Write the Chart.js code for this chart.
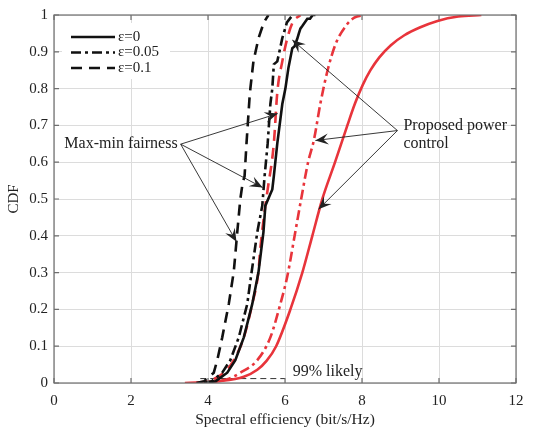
<!DOCTYPE html>
<html>
<head>
<meta charset="utf-8">
<script src="https://cdn.jsdelivr.net/npm/chart.js"></script>
<style>
  html, body { margin: 0; padding: 0; background: #fff; }
  #wrap { width: 536px; height: 440px; }
</style>
</head>
<body>
<div id="wrap"><canvas id="cdfChart" width="536" height="440"></canvas></div>
<script>
// x ticks / y ticks
const xTicks = [0, 2, 4, 6, 8, 10, 12];
const yTicks = [0, 0.1, 0.2, 0.3, 0.4, 0.5, 0.6, 0.7, 0.8, 0.9, 1];

// Max-min fairness, eps = 0 (black solid)
const mmEps0X = [3.9, 4.2, 4.5, 4.71, 4.93, 5.15, 5.31, 5.44, 5.49, 5.6, 5.67, 5.71, 5.8, 5.93, 6.01, 6.09, 6.19, 6.25, 6.32, 6.36, 6.4, 6.45, 6.58, 6.65, 6.72, 6.79];
const mmEps0Y = [0, 0.005, 0.028, 0.062, 0.124, 0.215, 0.30, 0.41, 0.482, 0.509, 0.526, 0.562, 0.651, 0.758, 0.80, 0.857, 0.91, 0.915, 0.936, 0.95, 0.963, 0.97, 0.99, 0.99, 1.0, 1.0];

// Max-min fairness, eps = 0.05 (black dash-dot)
const mmEps005X = [3.9, 4.1, 4.37, 4.58, 4.8, 5.02, 5.1, 5.28, 5.41, 5.47, 5.55, 5.62, 5.67, 5.71, 5.8, 5.93, 6.05, 6.2];
const mmEps005Y = [0, 0.005, 0.028, 0.062, 0.124, 0.215, 0.277, 0.41, 0.482, 0.562, 0.651, 0.758, 0.80, 0.866, 0.874, 0.937, 0.98, 1.0];

// Max-min fairness, eps = 0.1 (black dashed)
const mmEps01X = [3.7, 3.9, 4.15, 4.24, 4.37, 4.54, 4.67, 4.71, 4.76, 4.84, 4.9, 4.95, 5.0, 5.08, 5.1, 5.18, 5.31, 5.45, 5.57];
const mmEps01Y = [0, 0.005, 0.028, 0.062, 0.124, 0.215, 0.303, 0.35, 0.41, 0.5, 0.544, 0.562, 0.651, 0.777, 0.80, 0.874, 0.936, 0.98, 1.0];

// Proposed power control, eps = 0 (red solid)
const ppEps0X = [3.4, 4.3, 4.93, 5.28, 5.52, 5.77, 6.14, 6.45, 6.71, 6.97, 7.3, 7.62, 7.82, 8.02, 8.22, 8.45, 8.75, 9.1, 9.5, 9.96, 10.5, 11.1];
const ppEps0Y = [0, 0.005, 0.017, 0.036, 0.06, 0.1, 0.2, 0.3, 0.4, 0.5, 0.6, 0.7, 0.76, 0.81, 0.85, 0.885, 0.918, 0.945, 0.966, 0.984, 0.996, 1.0];

// Proposed power control, eps = 0.05 (red dash-dot)
const ppEps005X = [3.8, 4.5, 4.84, 5.28, 5.62, 5.88, 6.06, 6.25, 6.42, 6.6, 6.75, 6.92, 7.1, 7.31, 7.6, 7.8, 8.05];
const ppEps005Y = [0, 0.01, 0.028, 0.062, 0.124, 0.215, 0.29, 0.4, 0.5, 0.6, 0.66, 0.76, 0.847, 0.92, 0.973, 0.993, 1.0];

// Proposed power control, eps = 0.1 (red dashed)
const ppEps01X = [3.7, 4.0, 4.41, 4.67, 4.93, 5.15, 5.31, 5.36, 5.49, 5.55, 5.71, 5.8, 5.93, 6.06, 6.2, 6.4];
const ppEps01Y = [0, 0.005, 0.028, 0.062, 0.124, 0.215, 0.303, 0.366, 0.482, 0.526, 0.651, 0.79, 0.874, 0.937, 0.98, 1.0];

// "99% likely" marker line
const likelyX = [3.8, 6.0];
const likelyY = [0.012, 0.012];

const legendLabels = ['ε=0', 'ε=0.05', 'ε=0.1'];

const BLACK = '#111111';
const RED = '#e8343b';
const SOLID = [];
const DASHDOT = [10, 4, 3, 4];
const DASHED = [11, 7];
const SERIF = '"Liberation Serif", "DejaVu Serif", serif';

function pts(xs, ys) {
    return xs.map((x, i) => ({x: x, y: ys[i]}));
}

function curve(label, xs, ys, color, dash, smooth) {
    return {
        label: label,
        data: pts(xs, ys),
        borderColor: color,
        borderWidth: 2.6,
        borderDash: dash,
        pointRadius: 0,
        showLine: true,
        fill: false,
        cubicInterpolationMode: smooth ? 'monotone' : 'default',
        tension: 0
    };
}

// annotation arrows (data coords): origin then tips
const mmOrigin = [3.29, 0.649];
const mmTips = [[5.81, 0.732], [5.42, 0.531], [4.74, 0.384]];
const ppOrigin = [8.92, 0.686];
const ppTips = [[6.19, 0.932], [6.79, 0.659], [6.87, 0.472]];

function arrow(ctx, x0, y0, x1, y1) {
    ctx.beginPath();
    ctx.moveTo(x0, y0);
    ctx.lineTo(x1, y1);
    ctx.stroke();
    const a = Math.atan2(y1 - y0, x1 - x0);
    const len = 13, wid = 5.5, notch = 8;
    ctx.save();
    ctx.translate(x1, y1);
    ctx.rotate(a);
    ctx.beginPath();
    ctx.moveTo(0, 0);
    ctx.lineTo(-len, -wid);
    ctx.lineTo(-notch, 0);
    ctx.lineTo(-len, wid);
    ctx.closePath();
    ctx.fill();
    ctx.restore();
}

const extras = {
    id: 'extras',
    afterDatasetsDraw(chart) {
        const ctx = chart.ctx;
        const xs = chart.scales.x, ys = chart.scales.y;
        const a = chart.chartArea;
        ctx.save();

        // box + inward ticks
        ctx.strokeStyle = '#6e6e6e';
        ctx.lineWidth = 1.2;
        ctx.strokeRect(a.left, a.top, a.right - a.left, a.bottom - a.top);
        ctx.beginPath();
        xTicks.forEach(v => {
            const p = xs.getPixelForValue(v);
            ctx.moveTo(p, a.bottom); ctx.lineTo(p, a.bottom - 5);
            ctx.moveTo(p, a.top); ctx.lineTo(p, a.top + 5);
        });
        yTicks.forEach(v => {
            const p = ys.getPixelForValue(v);
            ctx.moveTo(a.left, p); ctx.lineTo(a.left + 5, p);
            ctx.moveTo(a.right, p); ctx.lineTo(a.right - 5, p);
        });
        ctx.stroke();

        // legend
        const lx = a.left + 8, ly = a.top + 8;
        ctx.fillStyle = '#fff';
        ctx.fillRect(lx, ly, 108, 56);
        const styles = [SOLID, DASHDOT, DASHED];
        ctx.strokeStyle = BLACK;
        ctx.lineWidth = 2.6;
        ctx.font = '15px ' + SERIF;
        ctx.fillStyle = '#222';
        ctx.textBaseline = 'middle';
        ctx.textAlign = 'left';
        legendLabels.forEach((t, i) => {
            const y = ly + 14 + i * 15.5;
            ctx.setLineDash(styles[i]);
            ctx.beginPath();
            ctx.moveTo(lx + 9, y);
            ctx.lineTo(lx + 53, y);
            ctx.stroke();
            ctx.setLineDash([]);
            ctx.fillText(t, lx + 56, y);
        });

        // arrows
        ctx.strokeStyle = '#222';
        ctx.fillStyle = '#222';
        ctx.lineWidth = 0.9;
        const draw = (o, tips) => tips.forEach(t => arrow(ctx,
            xs.getPixelForValue(o[0]), ys.getPixelForValue(o[1]),
            xs.getPixelForValue(t[0]), ys.getPixelForValue(t[1])));
        draw(mmOrigin, mmTips);
        draw(ppOrigin, ppTips);

        // annotation texts
        ctx.font = '16px ' + SERIF;
        ctx.fillStyle = '#222';
        ctx.textAlign = 'right';
        ctx.fillText('Max-min fairness', xs.getPixelForValue(mmOrigin[0]) - 3, ys.getPixelForValue(mmOrigin[1]));
        ctx.textAlign = 'left';
        ctx.fillText('Proposed power', xs.getPixelForValue(ppOrigin[0]) + 6, ys.getPixelForValue(0.70));
        ctx.fillText('control', xs.getPixelForValue(ppOrigin[0]) + 6, ys.getPixelForValue(0.649));
        ctx.fillText('99% likely', xs.getPixelForValue(6.2), ys.getPixelForValue(0.03));
        ctx.restore();
    }
};

new Chart(document.getElementById('cdfChart'), {
    type: 'scatter',
    data: {
        datasets: [
            curve('Max-min ε=0', mmEps0X, mmEps0Y, BLACK, SOLID, false),
            curve('Max-min ε=0.05', mmEps005X, mmEps005Y, BLACK, DASHDOT, false),
            curve('Max-min ε=0.1', mmEps01X, mmEps01Y, BLACK, DASHED, false),
            curve('Proposed ε=0', ppEps0X, ppEps0Y, RED, SOLID, true),
            curve('Proposed ε=0.05', ppEps005X, ppEps005Y, RED, DASHDOT, true),
            curve('Proposed ε=0.1', ppEps01X, ppEps01Y, RED, DASHED, true),
            {
                label: '99% likely',
                data: pts(likelyX, likelyY),
                borderColor: '#333',
                borderWidth: 1,
                borderDash: [6, 4],
                pointRadius: 0,
                showLine: true
            }
        ]
    },
    options: {
        responsive: false,
        animation: false,
        layout: { padding: { left: 0, right: 20, top: 9, bottom: 0 } },
        plugins: { legend: { display: false }, tooltip: { enabled: false } },
        scales: {
            x: {
                type: 'linear',
                min: 0, max: 12,
                afterFit: s => { s.height = 57; },
                afterBuildTicks: s => { s.ticks = xTicks.map(v => ({value: v})); },
                grid: { color: '#dcdcdc', drawTicks: false },
                border: { display: false },
                ticks: { padding: 9, color: '#222', font: { family: SERIF, size: 15 } },
                title: {
                    display: true,
                    text: 'Spectral efficiency (bit/s/Hz)',
                    color: '#222',
                    font: { family: SERIF, size: 15.5 },
                    padding: { top: 0, bottom: 11 }
                }
            },
            y: {
                type: 'linear',
                min: 0, max: 1,
                afterFit: s => { s.width = 54; },
                afterBuildTicks: s => { s.ticks = yTicks.map(v => ({value: v})); },
                grid: { color: '#dcdcdc', drawTicks: false },
                border: { display: false },
                ticks: {
                    padding: 6, color: '#222', font: { family: SERIF, size: 15 },
                    callback: v => String(+v.toFixed(1))
                },
                title: {
                    display: true,
                    text: 'CDF',
                    color: '#222',
                    font: { family: SERIF, size: 15 },
                    padding: { top: 5, bottom: 0 }
                }
            }
        }
    },
    plugins: [extras]
});
</script>
</body>
</html>
